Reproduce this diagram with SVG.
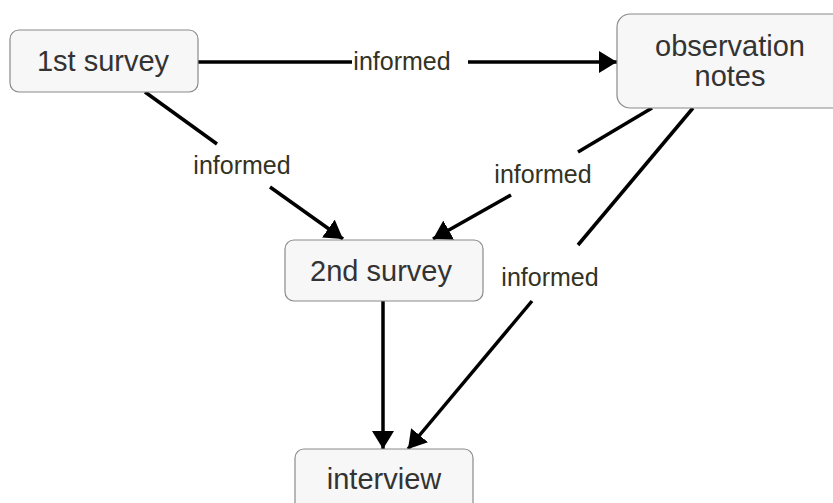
<svg xmlns="http://www.w3.org/2000/svg" width="833" height="503" viewBox="0 0 833 503">
<style>
.box{fill:#f7f7f7;stroke:#8a8a8a;stroke-width:1.2}
.nt{font-family:"Liberation Sans",Arial,sans-serif;font-size:29px;fill:#333;text-anchor:middle}
.lb{font-family:"Liberation Sans",Arial,sans-serif;font-size:25px;fill:#33331f;text-anchor:middle}
.ln{stroke:#000;stroke-width:3.5;fill:none}
</style>
<defs>
<marker id="ah" viewBox="0 0 18 22" refX="18" refY="11" markerWidth="18" markerHeight="22" markerUnits="userSpaceOnUse" orient="auto">
<path d="M0,0 L18,11 L0,22 Z" fill="#000"/>
</marker>
</defs>
<rect width="833" height="503" fill="#fff"/>
<g id="connectors">
<g id="e1">
<line class="ln" x1="198" y1="62" x2="352" y2="62"/>
<line class="ln" x1="468" y1="62" x2="617" y2="62" marker-end="url(#ah)"/>
<text class="lb" x="402" y="70">informed</text>
</g>
<g id="e2">
<line class="ln" x1="145" y1="92" x2="217" y2="144"/>
<line class="ln" x1="270" y1="187" x2="343" y2="239" marker-end="url(#ah)"/>
<text class="lb" x="242" y="174">informed</text>
</g>
<g id="e3">
<line class="ln" x1="652" y1="108" x2="578" y2="152"/>
<line class="ln" x1="511" y1="195" x2="433" y2="239" marker-end="url(#ah)"/>
<text class="lb" x="543" y="183">informed</text>
</g>
<g id="e4">
<line class="ln" x1="693" y1="108" x2="578" y2="245"/>
<line class="ln" x1="532" y1="301" x2="408" y2="449" marker-end="url(#ah)"/>
<text class="lb" x="550" y="286">informed</text>
</g>
<g id="e5">
<line class="ln" x1="383" y1="301" x2="383" y2="449" marker-end="url(#ah)"/>
</g>
</g>
<g id="n1">
<rect class="box" x="10" y="30" width="188" height="62" rx="9"/>
<text class="nt" x="103" y="71">1st survey</text>
</g>
<g id="n2">
<rect class="box" x="617" y="14" width="230" height="94" rx="13"/>
<text class="nt" x="730" y="56">observation</text>
<text class="nt" x="730" y="86">notes</text>
</g>
<g id="n3">
<rect class="box" x="285" y="240" width="198" height="61" rx="9"/>
<text class="nt" x="381" y="281">2nd survey</text>
</g>
<g id="n4">
<rect class="box" x="295" y="449" width="178" height="70" rx="9"/>
<text class="nt" x="384" y="489">interview</text>
</g>
</svg>
